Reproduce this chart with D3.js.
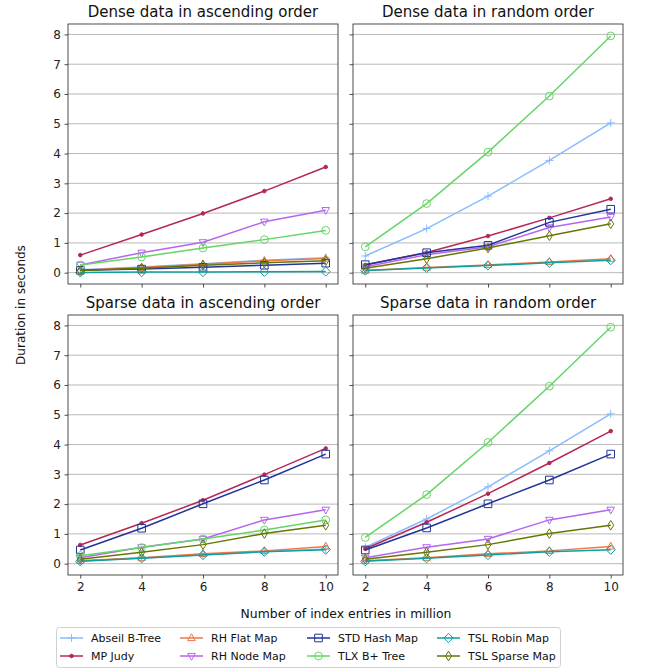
<!DOCTYPE html>
<html>
<head>
<meta charset="utf-8">
<script src="https://cdn.jsdelivr.net/npm/d3@7"></script>
<style>
  body { margin: 0; background: #fff; }
  svg { font-family: "DejaVu Sans", sans-serif; }
</style>
</head>
<body>
<div id="chart"></div>
<script>
// x values (million index entries)
var xValues = [2, 4, 6, 8, 10];
var yTicks = [0, 1, 2, 3, 4, 5, 6, 7, 8];
var seriesNames = ["Abseil B-Tree", "MP Judy", "RH Flat Map", "RH Node Map",
                   "STD Hash Map", "TLX B+ Tree", "TSL Robin Map", "TSL Sparse Map"];
var panelTitles = ["Dense data in ascending order", "Dense data in random order",
                   "Sparse data in ascending order", "Sparse data in random order"];

// durations in seconds, one row per series (same order as seriesNames)
var denseAscending = [
  [0.10, 0.19, 0.30, 0.42, 0.50],
  [0.59, 1.28, 1.99, 2.74, 3.55],
  [0.08, 0.17, 0.28, 0.40, 0.48],
  [0.26, 0.67, 1.02, 1.71, 2.10],
  [0.08, 0.12, 0.18, 0.25, 0.32],
  [0.26, 0.53, 0.83, 1.11, 1.42],
  [0.01, 0.02, 0.02, 0.03, 0.04],
  [0.07, 0.15, 0.25, 0.33, 0.40]
];
var denseRandom = [
  [0.56, 1.48, 2.57, 3.77, 5.03],
  [0.26, 0.68, 1.23, 1.84, 2.48],
  [0.07, 0.17, 0.26, 0.36, 0.47],
  [0.20, 0.60, 0.87, 1.52, 1.87],
  [0.27, 0.67, 0.92, 1.69, 2.13],
  [0.87, 2.32, 4.05, 5.93, 7.95],
  [0.07, 0.16, 0.24, 0.33, 0.42],
  [0.15, 0.47, 0.83, 1.24, 1.64]
];
var sparseAscending = [
  [0.09, 0.19, 0.30, 0.41, 0.49],
  [0.63, 1.36, 2.13, 2.99, 3.87],
  [0.10, 0.20, 0.33, 0.43, 0.58],
  [0.20, 0.55, 0.83, 1.47, 1.81],
  [0.46, 1.19, 2.01, 2.81, 3.68],
  [0.27, 0.54, 0.83, 1.13, 1.47],
  [0.08, 0.18, 0.29, 0.40, 0.47],
  [0.15, 0.38, 0.64, 1.01, 1.29]
];
var sparseRandom = [
  [0.55, 1.50, 2.58, 3.79, 5.03],
  [0.50, 1.39, 2.35, 3.38, 4.45],
  [0.10, 0.20, 0.33, 0.43, 0.58],
  [0.20, 0.55, 0.83, 1.47, 1.81],
  [0.46, 1.20, 2.01, 2.81, 3.68],
  [0.88, 2.32, 4.07, 5.96, 7.94],
  [0.08, 0.18, 0.29, 0.40, 0.47],
  [0.15, 0.38, 0.64, 1.01, 1.29]
];
var panelData = [denseAscending, denseRandom, sparseAscending, sparseRandom];

// styles
var colors = ["#88bbff", "#b52755", "#ee7744", "#b566ee",
              "#223399", "#66d566", "#119e9e", "#667700"];
var markers = ["plus", "dot", "triUp", "triDown", "square", "circle", "diamond", "thinDiamond"];

var W = 652, H = 669;
var panelW = 270, panelH = 260;
var panelPos = [[68, 24], [353, 24], [68, 315], [353, 315]];

var svg = d3.select("#chart").append("svg")
  .attr("width", W).attr("height", H);

var x = d3.scaleLinear().domain([1.6, 10.4]).range([0, panelW]);
var y = d3.scaleLinear().domain([-0.38, 8.35]).range([panelH, 0]);

function markerPath(type) {
  var s = 4;
  switch (type) {
    case "plus": return "M" + (-s) + ",0H" + s + "M0," + (-s) + "V" + s;
    case "dot": return d3.symbol(d3.symbolCircle, 10)();
    case "triUp": return "M0,-4.2L3.8,2.6L-3.8,2.6Z";
    case "triDown": return "M0,4.2L3.8,-2.6L-3.8,-2.6Z";
    case "square": return "M-3.8,-3.8H3.8V3.8H-3.8Z";
    case "circle": return d3.symbol(d3.symbolCircle, 48)();
    case "diamond": return "M0,-4.6L4.6,0L0,4.6L-4.6,0Z";
    case "thinDiamond": return "M0,-4.8L3,0L0,4.8L-3,0Z";
  }
}

panelData.forEach(function(data, p) {
  var g = svg.append("g")
    .attr("transform", "translate(" + panelPos[p][0] + "," + panelPos[p][1] + ")");

  // grid
  g.append("g").selectAll("line")
    .data(yTicks).enter().append("line")
    .attr("x1", 0).attr("x2", panelW)
    .attr("y1", function(d) { return y(d); })
    .attr("y2", function(d) { return y(d); })
    .attr("stroke", "#b8b8b8").attr("stroke-width", 1);

  // axes
  var yAxis = d3.axisLeft(y).tickValues(yTicks).tickSize(3.5).tickPadding(3.5);
  if (p % 2 == 1) yAxis.tickFormat("");
  var yg = g.append("g").call(yAxis);
  var xAxis = d3.axisBottom(x).tickValues(xValues).tickSize(3.5).tickPadding(4);
  if (p < 2) xAxis.tickFormat("");
  var xg = g.append("g").attr("transform", "translate(0," + panelH + ")").call(xAxis);
  [yg, xg].forEach(function(a) {
    a.select(".domain").remove();
    a.selectAll("line").attr("stroke", "#222").attr("stroke-width", 0.8);
    a.selectAll("text").attr("font-family", "DejaVu Sans").attr("font-size", 12).attr("fill", "#222");
  });

  // series
  var line = d3.line()
    .x(function(d, i) { return x(xValues[i]); })
    .y(function(d) { return y(d); });
  data.forEach(function(vals, s) {
    g.append("path")
      .attr("d", line(vals))
      .attr("fill", "none")
      .attr("stroke", colors[s])
      .attr("stroke-width", 1.5);
    g.append("g").selectAll("path")
      .data(vals).enter().append("path")
      .attr("transform", function(d, i) { return "translate(" + x(xValues[i]) + "," + y(d) + ")"; })
      .attr("d", markerPath(markers[s]))
      .attr("fill", markers[s] == "dot" ? colors[s] : "none")
      .attr("stroke", colors[s])
      .attr("stroke-width", 1);
  });

  // frame
  g.append("rect")
    .attr("width", panelW).attr("height", panelH)
    .attr("fill", "none").attr("stroke", "#222").attr("stroke-width", 0.8);

  // title
  g.append("text")
    .attr("x", panelW / 2).attr("y", -7)
    .attr("text-anchor", "middle")
    .attr("font-size", 15).attr("fill", "#111")
    .text(panelTitles[p]);
});

// axis labels
svg.append("text")
  .attr("transform", "translate(25,305) rotate(-90)")
  .attr("text-anchor", "middle").attr("font-size", 12).attr("fill", "#111")
  .text("Duration in seconds");
svg.append("text")
  .attr("x", 346).attr("y", 618)
  .attr("text-anchor", "middle").attr("font-size", 12.4).attr("fill", "#111")
  .text("Number of index entries in million");

// legend
var legend = svg.append("g");
legend.append("rect")
  .attr("x", 56.5).attr("y", 627.5).attr("width", 504).attr("height", 40).attr("rx", 3)
  .attr("fill", "#fff").attr("stroke", "#d0d0d0").attr("stroke-width", 1);
var colX = [60, 180, 307, 437];
var rowY = [638, 656];
seriesNames.forEach(function(name, s) {
  var lx = colX[Math.floor(s / 2)], ly = rowY[s % 2];
  var item = legend.append("g");
  item.append("line")
    .attr("x1", lx).attr("x2", lx + 23).attr("y1", ly).attr("y2", ly)
    .attr("stroke", colors[s]).attr("stroke-width", 1.5);
  item.append("path")
    .attr("transform", "translate(" + (lx + 11.5) + "," + ly + ")")
    .attr("d", markerPath(markers[s]))
    .attr("fill", markers[s] == "dot" ? colors[s] : "none")
    .attr("stroke", colors[s]).attr("stroke-width", 1);
  item.append("text")
    .attr("x", lx + 31).attr("y", ly + 4)
    .attr("font-size", 11).attr("fill", "#111")
    .text(name);
});
</script>
</body>
</html>
